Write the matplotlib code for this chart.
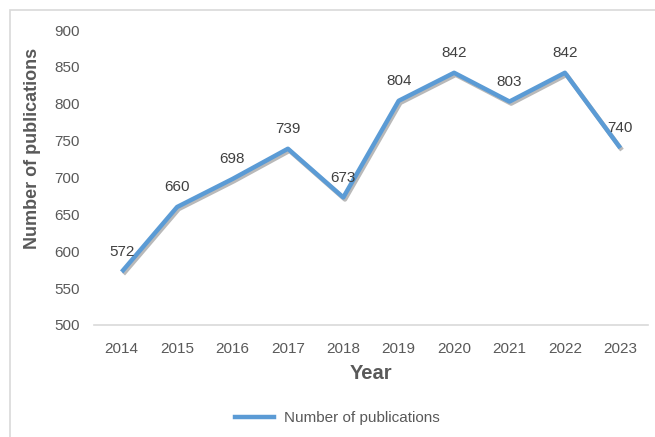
import matplotlib.pyplot as plt
import matplotlib.patheffects as pe
from matplotlib.patches import Rectangle

years = ["2014", "2015", "2016", "2017", "2018", "2019", "2020", "2021", "2022", "2023"]
publications = [572, 660, 698, 739, 673, 804, 842, 803, 842, 740]

LINE_COLOR = "#5B9BD5"
TEXT_COLOR = "#595959"

plt.rcParams["font.family"] = ["Liberation Sans", "DejaVu Sans"]

fig = plt.figure(figsize=(6.55, 4.37), dpi=100)
W, H = 655, 437

# light frame around the chart area
fig.patches.append(
    Rectangle((10 / W, -0.1), 1.2, 1 - 10 / H + 0.1, transform=fig.transFigure,
              fill=False, edgecolor="#D9D9D9", linewidth=1.2)
)

ax = fig.add_axes([94 / W, 1 - 325 / H, (648 - 94) / W, (325 - 30) / H])

x = list(range(len(years)))
ax.plot(
    x, publications, color=LINE_COLOR, linewidth=3.2, solid_capstyle="butt",
    path_effects=[pe.SimpleLineShadow(offset=(1.2, -1.5), alpha=0.4, shadow_color="#505050"),
                  pe.Normal()],
)
# legend proxy without the shadow
ax.plot([], [], color=LINE_COLOR, linewidth=3.2, label="Number of publications")

for xi, v in zip(x, publications):
    ax.annotate(str(v), (xi, v), xytext=(0, 9), textcoords="offset points",
                ha="center", va="bottom", fontsize=11, color="#404040")

ax.set_xlim(-0.5, len(years) - 0.5)
ax.set_ylim(500, 900)
ax.set_yticks(range(500, 901, 50))
ax.set_xticks(x)
ax.set_xticklabels(years)
ax.tick_params(length=0, labelsize=11, colors=TEXT_COLOR)
ax.tick_params(axis="x", pad=12)
ax.tick_params(axis="y", pad=10)

for side in ["top", "right", "left"]:
    ax.spines[side].set_visible(False)
ax.spines["bottom"].set_color("#D9D9D9")
ax.spines["bottom"].set_linewidth(1.2)

ax.set_xlabel("Year", fontsize=14.5, fontweight="bold", color=TEXT_COLOR, labelpad=6)
fig.text(33 / W, 1 - 148 / H, "Number of publications", rotation=90, ha="center", va="center",
         fontsize=13, fontweight="bold", color=TEXT_COLOR)

ax.legend(loc="center", bbox_to_anchor=((337 - 94) / (648 - 94), -(418 - 325) / (325 - 30)),
          frameon=False, fontsize=11, labelcolor=TEXT_COLOR, handlelength=2.6,
          handletextpad=0.6)

fig.savefig("out.png", dpi=100)
